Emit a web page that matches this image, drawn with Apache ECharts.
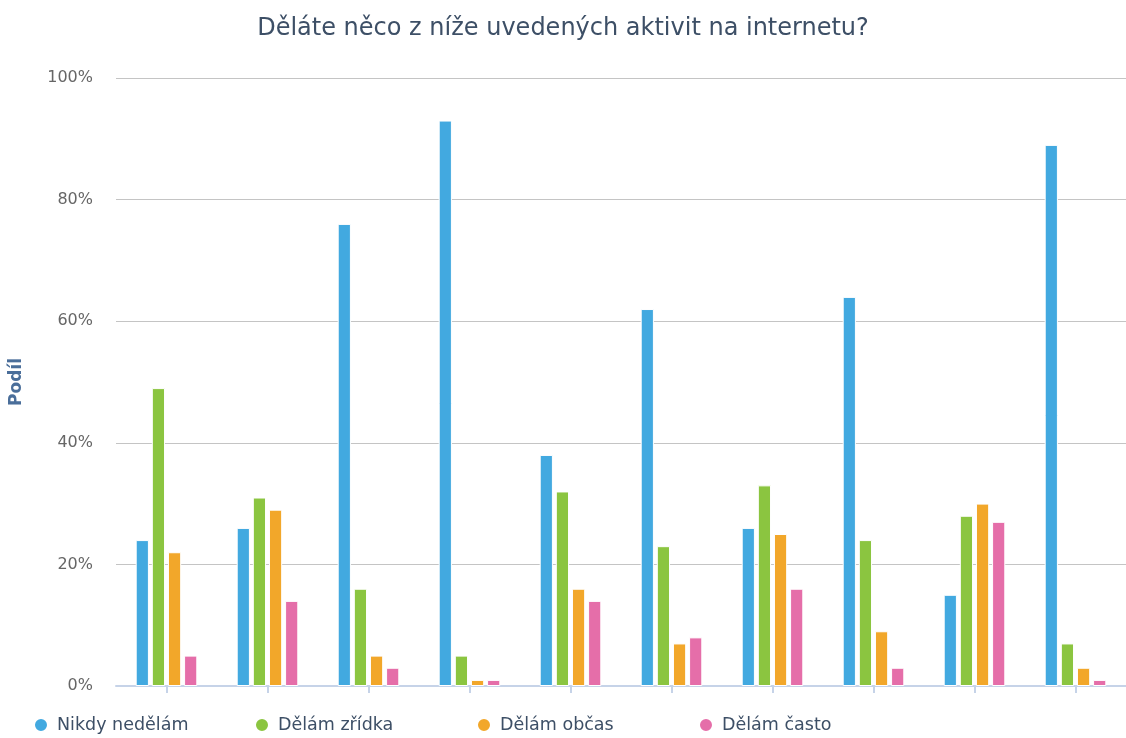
<!DOCTYPE html>
<html>
<head>
<meta charset="utf-8">
<script src="https://cdn.jsdelivr.net/npm/echarts@6/dist/echarts.min.js"></script>
<style>
  html, body { margin: 0; padding: 0; background: #fff; }
  #chart { width: 1126px; height: 738px; }
</style>
</head>
<body>
<div id="chart"></div>
<script>
// kategorie nemají popisky
var categories = ['', '', '', '', '', '', '', '', '', ''];
var nikdy = [24, 26, 76, 93, 38, 62, 26, 64, 15, 89];
var zridka = [49, 31, 16, 5, 32, 23, 33, 24, 28, 7];
var obcas = [22, 29, 5, 1, 16, 7, 25, 9, 30, 3];
var casto = [5, 14, 3, 1, 14, 8, 16, 3, 27, 1];
var seriesNames = ['Nikdy nedělám', 'Dělám zřídka', 'Dělám občas', 'Dělám často'];
var colors = ['#42a9e0', '#8bc540', '#f2a72a', '#e56ea9'];

var myChart = echarts.init(document.getElementById('chart'));

function bar(name, data) {
  return {
    name: name,
    type: 'bar',
    data: data,
    barGap: '22%',
    barCategoryGap: '39%',
    itemStyle: { borderColor: '#fff', borderWidth: 1 }
  };
}

// každá položka legendy zvlášť, aby rozestupy seděly
var legendLeft = [28, 249, 471, 693];
var legends = seriesNames.map(function (n, i) {
  return {
    data: [n],
    left: legendLeft[i],
    top: 711,
    icon: 'circle',
    itemWidth: 14,
    itemHeight: 14,
    textStyle: { fontSize: 17.5, color: '#3d4f66', padding: [0, 0, 0, 4] }
  };
});

myChart.setOption({
  color: colors,
  animation: false,
  textStyle: { fontFamily: 'DejaVu Sans' },
  title: {
    text: 'Děláte něco z níže uvedených aktivit na internetu?',
    left: 'center',
    top: 12,
    textStyle: { fontSize: 24, fontWeight: 'normal', color: '#3d4f66', fontFamily: 'DejaVu Sans' }
  },
  legend: legends,
  grid: { left: 115, right: 0, top: 78, bottom: 52 },
  xAxis: {
    type: 'category',
    data: categories,
    axisLine: { lineStyle: { color: '#c6d3e8', width: 2 } },
    axisTick: { show: true, alignWithLabel: true, length: 7, lineStyle: { color: '#c6d3e8', width: 2 } },
    axisLabel: { show: true, color: 'transparent' }
  },
  yAxis: {
    type: 'value',
    min: 0,
    max: 100,
    interval: 20,
    name: 'Podíl',
    nameLocation: 'middle',
    nameGap: 91,
    nameTextStyle: { fontSize: 17, fontWeight: 'bold', color: '#4a6e9a' },
    axisLine: { show: false },
    axisTick: { show: false },
    axisLabel: { formatter: '{value}%', fontSize: 16, color: '#666', margin: 23 },
    splitLine: { lineStyle: { color: '#c4c4c4', width: 1 } }
  },
  series: [
    bar(seriesNames[0], nikdy),
    bar(seriesNames[1], zridka),
    bar(seriesNames[2], obcas),
    bar(seriesNames[3], casto)
  ]
});
</script>
</body>
</html>
